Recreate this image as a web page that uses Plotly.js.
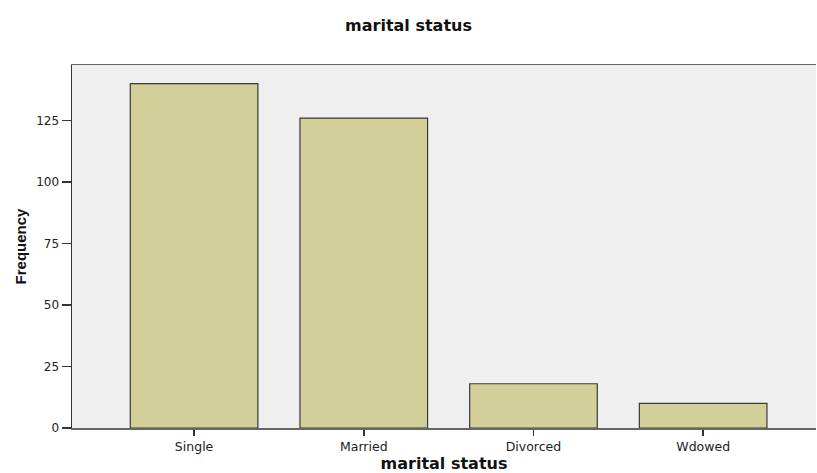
<!DOCTYPE html>
<html>
<head>
<meta charset="utf-8">
<script src="https://cdn.plot.ly/plotly-3.0.1.min.js"></script>
<style>html,body{margin:0;padding:0;background:#fff;}#chart{width:817px;height:473px;}</style>
</head>
<body>
<div id="chart"></div>
<script>
const categories = ["Single", "Married", "Divorced", "Wdowed"];
const frequencies = [140, 126, 18, 10];
const yTickValues = [0, 25, 50, 75, 100, 125];

const trace = {
  type: "bar",
  x: categories,
  y: frequencies,
  width: 0.752,
  marker: { color: "#d3cf98", line: { color: "#3a3a3a", width: 1.2 } },
  hoverinfo: "x+y"
};

const layout = {
  width: 817,
  height: 473,
  margin: { l: 72, r: 1, t: 65, b: 45 },
  paper_bgcolor: "#ffffff",
  plot_bgcolor: "#efefef",
  showlegend: false,
  title: {
    text: "<b>marital status</b>",
    font: { family: "DejaVu Sans", size: 16, color: "#111" },
    x: 0.5, xref: "container", xanchor: "center",
    y: 1 - 25 / 473, yref: "container", yanchor: "middle"
  },
  xaxis: {
    type: "category",
    range: [-0.7195, 3.665],
    showgrid: false,
    zeroline: false,
    showline: true,
    linecolor: "#666",
    linewidth: 1.5,
    mirror: true,
    ticks: "outside",
    ticklen: 6,
    tickwidth: 1.5,
    tickcolor: "#333",
    tickfont: { family: "DejaVu Sans", size: 12.5, color: "#222" },
    title: {
      text: "<b>marital status</b>",
      font: { family: "DejaVu Sans", size: 16, color: "#111" },
      standoff: 14
    },
    fixedrange: true
  },
  yaxis: {
    range: [0, 147.6],
    tickvals: yTickValues,
    ticktext: yTickValues.map(String),
    showgrid: false,
    zeroline: false,
    showline: true,
    linecolor: "#333",
    linewidth: 1.5,
    ticks: "outside",
    ticklen: 9,
    tickwidth: 1.5,
    tickcolor: "#333",
    tickfont: { family: "DejaVu Sans", size: 12, color: "#222" },
    title: {
      text: "<b>Frequency</b>",
      font: { family: "Liberation Sans", size: 15, color: "#111" },
      standoff: 6
    },
    fixedrange: true
  },
  bargap: 0.248
};

Plotly.newPlot("chart", [trace], layout, { displayModeBar: false, staticPlot: true });
</script>
</body>
</html>
